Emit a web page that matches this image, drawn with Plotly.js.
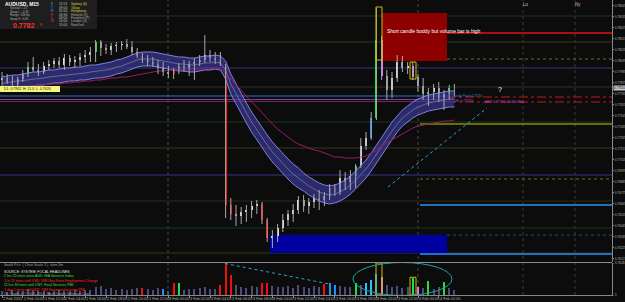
<!DOCTYPE html>
<html><head><meta charset="utf-8">
<script src="https://cdn.plot.ly/plotly-3.0.1.min.js"></script>
<style>html,body{margin:0;padding:0;background:#0c0c0c;overflow:hidden}#chart{width:625px;height:302px}</style>
</head><body><div id="chart"></div>
<script>
// ---- DATA (30-minute bars, AUDUSD) ----
const OPEN = [0.7790,0.7792,0.7788,0.7786,0.7791,0.7796,0.7803,0.7800,0.7798,0.7804,
0.7806,0.7809,0.7805,0.7812,0.7808,0.7810,0.7813,0.7815,0.7818,0.7828,
0.7822,0.7820,0.7824,0.7825,0.7826,0.7823,0.7818,0.7814,0.7810,0.7808,
0.7806,0.7802,0.7798,0.7796,0.7800,0.7804,0.7802,0.7806,0.7808,0.7810,
0.7815,0.7812,0.7810,0.7804,0.7665,0.7656,0.7654,0.7658,0.7660,0.7664,
0.7666,0.7650,0.7632,0.7634,0.7642,0.7650,0.7656,0.7660,0.7670,0.7664,
0.7668,0.7672,0.7670,0.7674,0.7682,0.7678,0.7692,0.7688,0.7694,0.7704,
0.7724,0.7732,0.7752,0.7830,0.7794,0.7780,0.7792,0.7808,0.7802,0.7804,
0.7793,0.7784,0.7776,0.7778,0.7782,0.7772,0.7776,0.7782];
const HIGH = [0.7798,0.7796,0.7794,0.7793,0.7800,0.7808,0.7813,0.7806,0.7808,0.7810,
0.7812,0.7813,0.7816,0.7815,0.7814,0.7817,0.7820,0.7823,0.7830,0.7830,
0.7826,0.7827,0.7828,0.7829,0.7831,0.7829,0.7822,0.7817,0.7815,0.7813,
0.7810,0.7808,0.7804,0.7802,0.7807,0.7810,0.7809,0.7812,0.7815,0.7835,
0.7820,0.7818,0.7818,0.7806,0.7672,0.7665,0.7663,0.7665,0.7669,0.7670,
0.7668,0.7652,0.7640,0.7646,0.7656,0.7660,0.7666,0.7674,0.7675,0.7672,
0.7676,0.7680,0.7678,0.7686,0.7686,0.7700,0.7698,0.7700,0.7706,0.7732,
0.7738,0.7758,0.7862,0.7834,0.7800,0.7798,0.7815,0.7814,0.7808,0.7808,
0.7796,0.7792,0.7782,0.7786,0.7788,0.7780,0.7785,0.7786];
const LOW = [0.7784,0.7786,0.7782,0.7784,0.7788,0.7793,0.7798,0.7794,0.7796,0.7800,
0.7802,0.7802,0.7800,0.7804,0.7802,0.7804,0.7807,0.7808,0.7808,0.7814,
0.7816,0.7815,0.7818,0.7820,0.7821,0.7815,0.7812,0.7807,0.7804,0.7803,
0.7796,0.7794,0.7792,0.7791,0.7796,0.7798,0.7794,0.7790,0.7804,0.7807,
0.7808,0.7806,0.7804,0.7652,0.7650,0.7644,0.7646,0.7648,0.7652,0.7656,
0.7646,0.7628,0.7622,0.7628,0.7638,0.7644,0.7648,0.7656,0.7658,0.7656,
0.7662,0.7660,0.7664,0.7670,0.7674,0.7675,0.7680,0.7680,0.7682,0.7702,
0.7720,0.7730,0.7750,0.7790,0.7770,0.7772,0.7788,0.7798,0.7796,0.7790,
0.7778,0.7770,0.7764,0.7770,0.7768,0.7760,0.7770,0.7774];
const CLOSE = [0.7792,0.7788,0.7786,0.7791,0.7796,0.7803,0.7800,0.7798,0.7804,0.7806,
0.7809,0.7805,0.7812,0.7808,0.7810,0.7813,0.7815,0.7818,0.7828,0.7822,
0.7820,0.7824,0.7825,0.7826,0.7823,0.7818,0.7814,0.7810,0.7808,0.7806,
0.7802,0.7798,0.7796,0.7800,0.7804,0.7802,0.7806,0.7808,0.7810,0.7815,
0.7812,0.7810,0.7806,0.7665,0.7656,0.7654,0.7658,0.7660,0.7664,0.7666,
0.7650,0.7632,0.7634,0.7642,0.7650,0.7656,0.7660,0.7670,0.7664,0.7668,
0.7672,0.7670,0.7674,0.7682,0.7678,0.7692,0.7688,0.7694,0.7704,0.7724,
0.7732,0.7752,0.7830,0.7794,0.7780,0.7792,0.7808,0.7802,0.7804,0.7793,
0.7784,0.7776,0.7778,0.7782,0.7772,0.7776,0.7782,0.7782];
const VOLUME = [400,300,500,400,400,600,500,400,400,300,
400,500,400,400,500,400,500,500,800,900,
600,700,500,600,500,600,700,700,600,500,
700,600,400,1200,1200,500,600,600,700,800,
600,600,1000,3200,2000,1000,800,700,900,800,
1200,1200,900,800,800,900,700,1000,800,700,
900,800,1100,1200,1000,900,800,800,1200,1000,
1200,1500,2100,1800,1000,800,900,700,800,1700,
800,700,1400,600,800,1300,700,500];
const BAND_UPPER = [0.7793,0.7794,0.7795,0.7795,0.7796,0.7797,0.7798,0.7798,0.7799,0.7800,
0.7800,0.7801,0.7802,0.7802,0.7803,0.7803,0.7804,0.7805,0.7805,0.7806,
0.7807,0.7808,0.7810,0.7811,0.7813,0.7815,0.7817,0.7818,0.7818,0.7818,
0.7817,0.7816,0.7815,0.7814,0.7813,0.7813,0.7812,0.7812,0.7813,0.7814,
0.7814,0.7815,0.7814,0.7809,0.7796,0.7786,0.7776,0.7767,0.7758,0.7750,
0.7743,0.7735,0.7728,0.7722,0.7716,0.7711,0.7706,0.7702,0.7697,0.7693,
0.7690,0.7687,0.7685,0.7684,0.7685,0.7687,0.7690,0.7694,0.7699,0.7704,
0.7710,0.7717,0.7725,0.7733,0.7741,0.7748,0.7754,0.7760,0.7764,0.7768,
0.7771,0.7773,0.7775,0.7776,0.7777,0.7778,0.7779,0.7779];
const BAND_LOWER = [0.7780,0.7781,0.7782,0.7783,0.7783,0.7783,0.7784,0.7785,0.7785,0.7786,
0.7787,0.7787,0.7788,0.7789,0.7789,0.7790,0.7790,0.7791,0.7792,0.7792,
0.7793,0.7794,0.7796,0.7797,0.7799,0.7801,0.7803,0.7804,0.7804,0.7804,
0.7803,0.7802,0.7801,0.7800,0.7799,0.7799,0.7798,0.7798,0.7799,0.7800,
0.7800,0.7801,0.7800,0.7791,0.7776,0.7766,0.7756,0.7747,0.7738,0.7730,
0.7723,0.7715,0.7708,0.7702,0.7696,0.7691,0.7686,0.7682,0.7679,0.7675,
0.7672,0.7669,0.7667,0.7666,0.7667,0.7669,0.7672,0.7676,0.7681,0.7686,
0.7692,0.7699,0.7707,0.7715,0.7723,0.7730,0.7738,0.7744,0.7748,0.7752,
0.7755,0.7757,0.7759,0.7760,0.7761,0.7762,0.7763,0.7763];
const SLOW_MA = [0.7782,0.7782,0.7783,0.7783,0.7784,0.7784,0.7784,0.7785,0.7785,0.7786,
0.7786,0.7786,0.7787,0.7787,0.7788,0.7788,0.7789,0.7789,0.7790,0.7790,
0.7791,0.7792,0.7792,0.7793,0.7793,0.7794,0.7795,0.7796,0.7797,0.7798,
0.7799,0.7799,0.7800,0.7800,0.7800,0.7801,0.7801,0.7801,0.7801,0.7802,
0.7802,0.7802,0.7802,0.7797,0.7791,0.7785,0.7780,0.7774,0.7768,0.7763,
0.7757,0.7752,0.7746,0.7741,0.7737,0.7733,0.7729,0.7726,0.7724,0.7722,
0.7720,0.7719,0.7717,0.7715,0.7713,0.7713,0.7712,0.7712,0.7712,0.7713,
0.7714,0.7717,0.7720,0.7724,0.7727,0.7730,0.7733,0.7736,0.7739,0.7742,
0.7744,0.7745,0.7746,0.7747,0.7748,0.7749,0.7749,0.7750];
const TIME_LABELS = ['2 Feb 2015','2 Feb 10:00','2 Feb 12:00','2 Feb 14:00','2 Feb 16:00','2 Feb 18:00',
'2 Feb 20:00','2 Feb 22:00','3 Feb 00:00','3 Feb 02:00','3 Feb 04:00','3 Feb 06:00','3 Feb 08:00',
'3 Feb 10:00','3 Feb 12:00','3 Feb 14:00','3 Feb 16:00','3 Feb 18:00','3 Feb 20:00','3 Feb 22:00',
'4 Feb 00:00','4 Feb 02:00'];
const LAST_PRICE = 0.7782;

// ---- STYLE ----
const COLORS = {red:'#f01010', green:'#20e040', blue:'#1e90ff', magenta:'#f070f0', cyan:'#30c0ff'};
const CANDLE_HL = {2:'red',3:'magenta',5:'green',18:'green',27:'red',33:'red',34:'green',42:'red',43:'red',44:'red',
  50:'red',51:'red',63:'blue',64:'red',68:'green',71:'blue',72:'green',73:'magenta',79:'magenta',82:'green',86:'green'};
const VOL_HL = {27:'red',31:'blue',33:'red',34:'green',42:'red',43:'red',44:'red',50:'red',51:'red',62:'red',63:'blue',
  64:'blue',68:'green',70:'cyan',71:'cyan',72:'blue',73:'magenta',79:'green',80:'magenta',82:'green',85:'green'};

const W = 612, H = 295;              // plot area in px
const PX = x => (x - 2) / 5.2;        // px -> bar index (for decorations)
const PY = y => 0.7870 - y / 10000;   // px -> price (for decorations)
const fx = x => x / W, fy = y => (H - y) / H;

const n = OPEN.length, idx = [...Array(n).keys()];
const wx = [], wy = [];
idx.forEach(i => { wx.push(i, i, null); wy.push(HIGH[i], LOW[i], null); });
const bodyBase = idx.map(i => Math.min(OPEN[i], CLOSE[i]));
const bodyLen = idx.map(i => Math.max(Math.abs(CLOSE[i] - OPEN[i]), 0.00004));
const bodyCol = idx.map(i => CANDLE_HL[i] ? COLORS[CANDLE_HL[i]] : (CLOSE[i] >= OPEN[i] ? '#e4e4e4' : '#9a9a9a'));
const volCol = idx.map(i => VOL_HL[i] ? COLORS[VOL_HL[i]] : '#4c4c7c');

const traces = [
  {x: idx, y: BAND_LOWER, type:'scatter', mode:'lines', line:{color:'rgba(140,140,235,0.9)', width:1}, hoverinfo:'skip'},
  {x: idx, y: BAND_UPPER, type:'scatter', mode:'lines', fill:'tonexty', fillcolor:'rgba(60,60,160,0.65)',
   line:{color:'rgba(140,140,235,0.9)', width:1}, hoverinfo:'skip'},
  {x: idx, y: idx.map(i => (BAND_UPPER[i] + BAND_LOWER[i]) / 2), type:'scatter', mode:'lines', line:{color:'rgba(170,170,200,0.6)', width:0.8}},
  {x: idx, y: SLOW_MA, type:'scatter', mode:'lines', line:{color:'#9a1a6a', width:1}},
  {x: wx, y: wy, type:'scatter', mode:'lines', line:{color:'#a8a8a8', width:1}, connectgaps:false},
  {x: idx, y: bodyLen, base: bodyBase, type:'bar', width:0.4, marker:{color: bodyCol, line:{width:0}}},
  {x: idx, y: VOLUME, type:'bar', width:0.4, marker:{color: volCol, line:{width:0}}, xaxis:'x', yaxis:'y2'}
];

const hl = (py, color, x0px, x1px, width, dash) => ({type:'line', xref:'x', yref:'y', x0:PX(x0px), x1:PX(x1px),
  y0:PY(py), y1:PY(py), line:{color, width: width || 1, dash: dash || 'solid'}, layer:'below'});
const vl = (xpx, color) => ({type:'line', xref:'x', yref:'paper', x0:PX(xpx), x1:PX(xpx), y0:0, y1:1,
  line:{color, width:1, dash:'dot'}, layer:'below'});

const shapes = [
  // faint zone lines
  hl(16,'#143814',0,612), hl(42,'#34341a',0,612), hl(68,'#20204a',0,612,2), hl(87,'#2e2e2e',0,612),
  hl(122,'#143814',0,612), hl(148,'#34341a',0,612), hl(175,'#20204a',0,612,2), hl(201,'#2a2a18',0,612),
  hl(228,'#143814',0,612), hl(253,'#34341a',0,612),
  vl(168,'#4a4a4a'), vl(418,'#4a4a30'), vl(523,'#3c3c22'), vl(575,'#3c3c22'),
  // red zone and blue zone
  {type:'rect', xref:'x', yref:'y', x0:PX(382), x1:PX(447), y0:PY(61), y1:PY(13), fillcolor:'#8c0000', line:{width:0}, layer:'below'},
  {type:'rect', xref:'x', yref:'y', x0:PX(270), x1:PX(447), y0:PY(253), y1:PY(235), fillcolor:'#0000a0', line:{width:0}, layer:'below'},
  // level lines
  hl(96,'#2a70b8',0,447), hl(99.5,'#8a3a9a',0,447), hl(101.5,'#6a2a6a',0,447),
  hl(97,'#c01818',447,612,1,'dashdot'), hl(102,'#c01818',447,612,1,'dashdot'),
  hl(33,'#e01010',447,612,1.5), hl(59,'#6a6a2a',447,612,1,'dot'),
  hl(124,'#c8c800',420,612,1.2), hl(179,'#6a6a2a',420,612,1,'dot'),
  hl(205,'#2070c0',420,612,2), hl(235,'#3a3a7a',447,612,1,'dot'), hl(254,'#2070c0',420,612,2),
  // yellow boxes
  {type:'rect', xref:'x', yref:'y', x0:PX(376), x1:PX(382), y0:PY(60), y1:PY(7), line:{color:'#c8c000', width:1}},
  {type:'rect', xref:'x', yref:'y', x0:PX(410), x1:PX(416), y0:PY(79), y1:PY(62), line:{color:'#c8c000', width:1}},
  {type:'rect', xref:'x', yref:'y2', x0:PX(376), x1:PX(382), y0:0, y1:3250, line:{color:'#c8c000', width:1}},
  {type:'rect', xref:'x', yref:'y2', x0:PX(410), x1:PX(416), y0:0, y1:1800, line:{color:'#c8c000', width:1}},
  // ellipse in volume window
  {type:'circle', xref:'x', yref:'y2', x0:PX(353), x1:PX(452), y0:-50, y1:3300, line:{color:'#20a0a0', width:1}},
  // trend lines
  {type:'line', xref:'x', yref:'y', x0:PX(388), x1:PX(487), y0:PY(187), y1:PY(108), line:{color:'#2aa8c8', width:1, dash:'dot'}},
  {type:'line', xref:'x', yref:'y2', x0:PX(225), x1:PX(330), y0:3200, y1:1100, line:{color:'#2aa8c8', width:1, dash:'dot'}},
  // info box & panel separators
  {type:'rect', xref:'paper', yref:'paper', x0:0, x1:fx(97), y0:fy(29), y1:1, fillcolor:'#1e1e1e', line:{width:0}},
  {type:'line', xref:'paper', yref:'paper', x0:0, x1:1, y0:fy(262.5), y1:fy(262.5), line:{color:'#8a8a8a', width:1}},
  {type:'rect', xref:'paper', yref:'paper', x0:0, x1:fx(60), y0:fy(92), y1:fy(86), fillcolor:'#f4f47a', line:{width:0}},
];

const A = (xpx, ypx, text, color, size, extra) => Object.assign({xref:'paper', yref:'paper', x:fx(xpx), y:fy(ypx),
  text, showarrow:false, xanchor:'left', yanchor:'middle', font:{color, size, family:'Liberation Sans, Arial'}}, extra || {});

const annotations = [
  A(3,4,'<b>AUDUSD, M15</b>','#ffffff',5),
  A(8,8.5,'Spread: 1.10','#b0b0b0',3), A(8,12,'Swap L: -0.39','#b0b0b0',3), A(8,15.5,'Range: 209.0p','#b0b0b0',3),
  A(8,19,'Swap S: 0.09','#b0b0b0',3),
  A(11,25,'<b>0.7782</b>','#ff2a2a',7), A(38,25.5,'8','#ff2a2a',3.5),
  A(49,4,'$','#3aa0ff',3.3), A(49,7.5,'T','#3aa0ff',3.3), A(49,11,'H','#3aa0ff',3.3), A(49,14.5,'F','#ff3a3a',3.3),
  A(49,18,'L','#ff3a3a',3.3), A(49,21.5,'N','#ff3a3a',3.3),
  A(57,4,'11:53','#c0c0c0',3.3), A(57,7.5,'09:00','#c0c0c0',3.3), A(57,11,'02:00','#c0c0c0',3.3), A(57,14.5,'03:30','#c0c0c0',3.3),
  A(57,18,'09:00','#c0c0c0',3.3), A(57,21.5,'10:00','#c0c0c0',3.3), A(57,25,'15:00','#c0c0c0',3.3),
  A(69,4,'Sydney (0)','#d8d830',3.3), A(69,7.5,'Tokyo','#d8d830',3.3), A(69,11,'Hongkong','#d8d830',3.3),
  A(69,14.5,'Helsinki (0)','#b0b0b0',3.3), A(69,18,'Frankfurt (P)','#b0b0b0',3.3), A(69,21.5,'London (0)','#b0b0b0',3.3),
  A(69,25,'NewYork','#b0b0b0',3.3),
  A(2,89,'D1: 0.7902  H: 11.0  L: 0.7626','#202000',3.5),
  A(385,31,'Short candle boddy but volume bar is high','#ffffff',5),
  A(496,89,'?','#ffffff',7),
  A(452,96,'Daily Pivot 0.7774','#3a8ad8',3.5), A(452,101,'DE: 0.77705','#b050c0',3.5),
  A(483,102,'ABT 0.77705, 1h30 18bp','#b050c0',3.5),
  A(521,5,'Lo','#c0c0c0',4.5), A(573,5,'Ny','#c0c0c0',4.5),
  A(2,265,'Swalli Pit\'s  ( Chart Scale 3 )  vlam 3m','#a0a0a0',3.5),
  A(2,272,'SOURCE: SYSTEM: FOCAL HEADLINES','#e0e0e0',3.5),
  A(2,276,'2 hrs 25 mins since AUD: HIA Services Index','#30e030',3.5),
  A(2,280.5,'1 hr 25 mins until USD: ISM Non-Farm Employment Change','#ff2020',3.5),
  A(2,285,'11 hrs 30 mins until CNY: Final Services PMI','#30e030',3.5),
  A(2,289.5,'1 day 5 mins until USD: ISM Nonmanufacturing PMI','#ff2020',3.5),
  A(2,293.5,'Ox Trader 4, \u00a9 2001-2014, MetaQuotes Software Corp.','#a0a0a0',3.5),
  A(612.5,fy2(LAST_PRICE),'0.77820','#000000',3,{bgcolor:'#c8c8c8', borderpad:0}),
];
function fy2(p){ return (0.7870 - p) * 10000; }
// time-axis labels, anchored to their bar index on the x axis
TIME_LABELS.forEach((t, k) => annotations.push({xref:'x', yref:'paper', x:k * 4, y:fy(298.5), text:t, showarrow:false,
  xanchor:'left', yanchor:'middle', xshift:-1, font:{color:'#b0b0b0', size:3.8, family:'Liberation Sans, Arial'}}));

const tickPrices = [], tickText = [];
for (let k = 0; k < 24; k++) { const p = 0.78645 - k * 0.0011; tickPrices.push(p); tickText.push(p.toFixed(5)); }

const layout = {
  width:625, height:302, margin:{l:0, r:13, t:0, b:7},
  paper_bgcolor:'#0c0c0c', plot_bgcolor:'#0c0c0c', showlegend:false, bargap:0,
  xaxis:{range:[PX(0), PX(612)], showgrid:false, zeroline:false, anchor:'y2',
    tickvals: TIME_LABELS.map((_, k) => k * 4), showticklabels:false, ticks:'outside', ticklen:1.5, tickcolor:'#888',
    showline:true, linecolor:'#888', mirror:false},
  yaxis:{domain:[fy(262), 1], range:[PY(262), PY(0)], side:'right', showgrid:false, zeroline:false,
    tickvals: tickPrices, ticktext: tickText, tickfont:{color:'#b0b0b0', size:3.2, family:'Liberation Sans, Arial'},
    ticks:'outside', ticklen:1, tickcolor:'#888', showline:true, linecolor:'#888'},
  yaxis2:{domain:[0, fy(263)], range:[0, 3250], side:'right', showgrid:false, zeroline:false,
    tickvals:[0, 3250], ticktext:['0','3.7828'], tickfont:{color:'#b0b0b0', size:3.2}, ticklen:1, ticks:'outside',
    showline:true, linecolor:'#888'},
  shapes, annotations
};
Plotly.newPlot('chart', traces, layout, {displayModeBar:false, staticPlot:true});
</script></body></html>
